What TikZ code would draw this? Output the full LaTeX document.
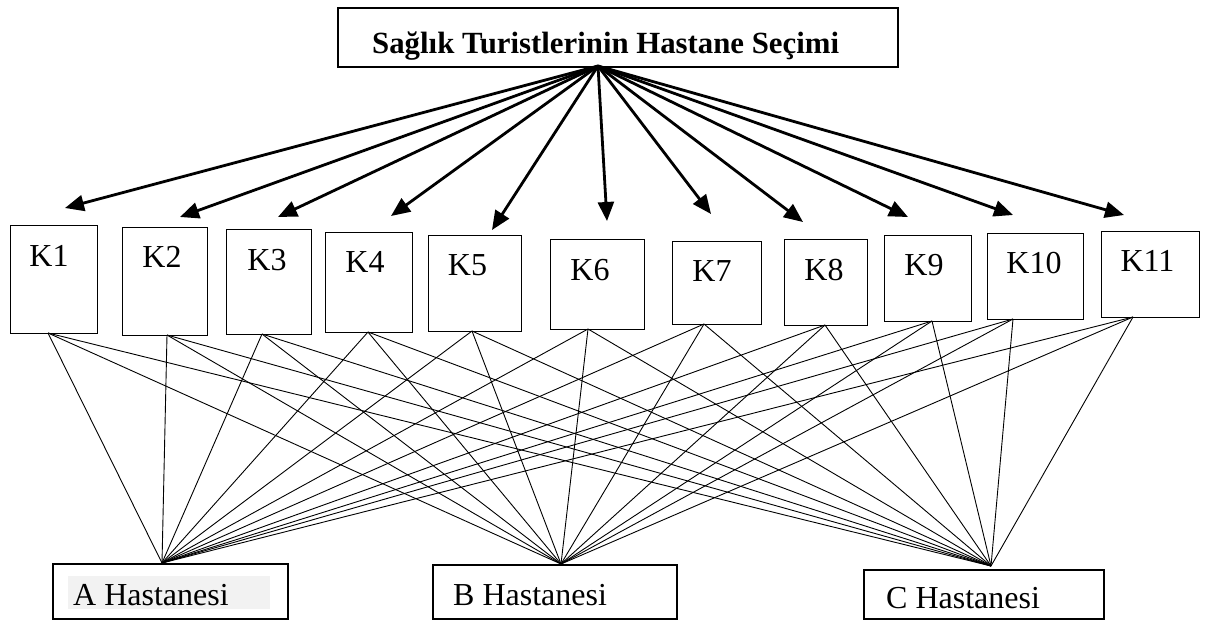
\documentclass[tikz,border=0pt]{standalone}
\usepackage{fontspec}
\setmainfont{Liberation Serif}
\usetikzlibrary{arrows.meta}
\definecolor{hl}{RGB}{242,242,242}
\begin{document}
\begin{tikzpicture}[x=1pt,y=-1pt,
  box/.style={draw, line width=1.3pt, inner sep=0pt, anchor=north west},
  tbox/.style={draw, line width=1.6pt, inner sep=0pt, anchor=north west},
  ktext/.style={font=\fontsize{32}{36}\selectfont, anchor=base, inner sep=0pt},
  htext/.style={font=\fontsize{32}{36}\selectfont, anchor=base west, inner sep=0pt},
  titletext/.style={font=\fontsize{30.8}{34}\selectfont\bfseries, anchor=base west, inner sep=0pt},
  arr/.style={line width=2.8pt, -{Triangle[length=19pt,width=16pt]}},
  link/.style={line width=0.9pt}]
\useasboundingbox (0,0) rectangle (1205,619);
% top box
\node[tbox, minimum width=560pt, minimum height=59pt] (top) at (337,7) {};
\node[titletext] (toptext) at (372,53) {Sağlık Turistlerinin Hastane Seçimi};
% K boxes
\node[box, minimum width=87pt, minimum height=108pt] (k1) at (10,225) {};
\node[box, minimum width=85pt, minimum height=108pt] (k2) at (122,227) {};
\node[box, minimum width=85pt, minimum height=105pt] (k3) at (226,229) {};
\node[box, minimum width=87pt, minimum height=100pt] (k4) at (325,232) {};
\node[box, minimum width=93pt, minimum height=96pt] (k5) at (428,235) {};
\node[box, minimum width=94pt, minimum height=90pt] (k6) at (550,239) {};
\node[box, minimum width=89pt, minimum height=83pt] (k7) at (672,241) {};
\node[box, minimum width=83pt, minimum height=86pt] (k8) at (784,239) {};
\node[box, minimum width=87pt, minimum height=86pt] (k9) at (884,235) {};
\node[box, minimum width=96pt, minimum height=86pt] (k10) at (987,233) {};
\node[box, minimum width=98pt, minimum height=86pt] (k11) at (1101,231) {};
\node[ktext] (k1t) at (49,266) {K1};
\node[ktext] (k2t) at (162,267) {K2};
\node[ktext] (k3t) at (267,270) {K3};
\node[ktext] (k4t) at (365,272.7) {K4};
\node[ktext] (k5t) at (467.5,275) {K5};
\node[ktext] (k6t) at (590,280) {K6};
\node[ktext] (k7t) at (712,281.7) {K7};
\node[ktext] (k8t) at (824,280) {K8};
\node[ktext] (k9t) at (924,275) {K9};
\node[ktext] (k10t) at (1034,273) {K10};
\node[ktext] (k11t) at (1147.5,271.7) {K11};
% bottom boxes
\fill[hl] (68,576) rectangle (270,609);
\node[tbox, minimum width=235pt, minimum height=55pt] (ha) at (52,563) {};
\node[tbox, minimum width=244pt, minimum height=54pt] (hb) at (432,564) {};
\node[tbox, minimum width=240pt, minimum height=49pt] (hc) at (863,569) {};
\node[htext] (hat) at (73,605) {A Hastanesi};
\node[htext] (hbt) at (453,605) {B Hastanesi};
\node[htext] (hct) at (886,608) {C Hastanesi};
% connector points
\coordinate (o) at (598,66);
\coordinate (t1) at (65,208);
\coordinate (t2) at (180,217);
\coordinate (t3) at (278,217);
\coordinate (t4) at (391,216);
\coordinate (t5) at (492,230);
\coordinate (t6) at (607,221);
\coordinate (t7) at (711,214);
\coordinate (t8) at (803,222);
\coordinate (t9) at (908,217);
\coordinate (t10) at (1013,215);
\coordinate (t11) at (1124,215);
\coordinate (s1) at (48,333);
\coordinate (s2) at (167,335);
\coordinate (s3) at (262,334);
\coordinate (s4) at (368,332);
\coordinate (s5) at (472,331);
\coordinate (s6) at (588,329);
\coordinate (s7) at (704,324);
\coordinate (s8) at (825,325);
\coordinate (s9) at (932,321);
\coordinate (s10) at (1013,319);
\coordinate (s11) at (1133,317);
\coordinate (ta) at (162,563);
\coordinate (tb) at (561,564);
\coordinate (tc) at (991,566);
\foreach \i in {1,...,11} {
  \foreach \t in {ta,tb,tc} { \draw[link] (s\i) -- (\t); }
  \draw[arr] (o) -- (t\i);
}
\end{tikzpicture}
\end{document}
